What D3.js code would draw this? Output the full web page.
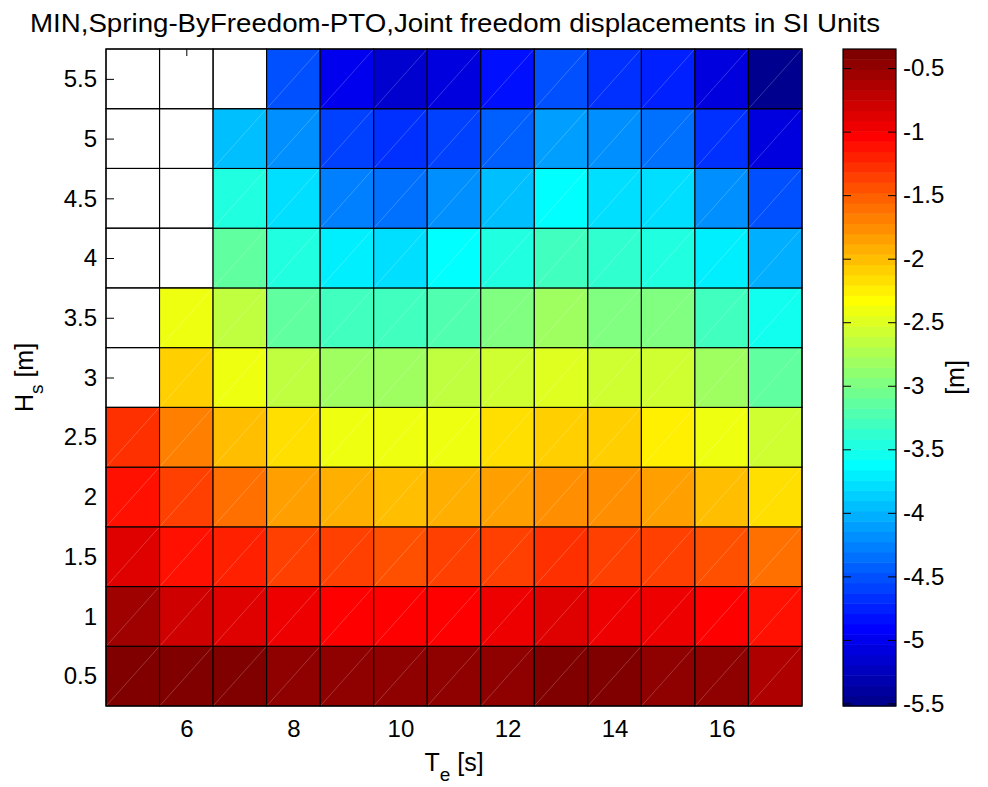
<!DOCTYPE html>
<html>
<head>
<meta charset="utf-8">
<script src="https://cdn.jsdelivr.net/npm/d3@7"></script>
<style>
  body { margin: 0; background: #fff; }
  text { font-family: "Liberation Sans", Arial, Helvetica, sans-serif; fill: #000; }
</style>
</head>
<body>
<svg id="chart" width="988" height="787"></svg>
<script>
// Energy period Te [s] (columns) and significant wave height Hs [m] (rows)
const periods = [5, 6, 7, 8, 9, 10, 11, 12, 13, 14, 15, 16, 17];
const heights = [0.5, 1.0, 1.5, 2.0, 2.5, 3.0, 3.5, 4.0, 4.5, 5.0, 5.5];

// Minimum joint displacement [m] per sea state, one array per Hs row (NaN = not computed)
const hs05 = [-0.35, -0.41, -0.41, -0.49, -0.49, -0.51, -0.51, -0.51, -0.41, -0.41, -0.51, -0.49, -0.60];
const hs10 = [-0.57, -0.76, -0.84, -0.92, -1.00, -1.00, -1.00, -0.92, -0.84, -0.92, -0.92, -1.00, -1.08];
const hs15 = [-0.84, -1.08, -1.16, -1.32, -1.40, -1.48, -1.40, -1.32, -1.24, -1.32, -1.32, -1.48, -1.57];
const hs20 = [-1.08, -1.40, -1.57, -1.81, -1.89, -1.97, -1.89, -1.81, -1.73, -1.73, -1.81, -1.97, -2.13];
const hs25 = [-1.24, -1.71, -1.97, -2.19, -2.37, -2.37, -2.37, -2.19, -2.11, -2.11, -2.21, -2.37, -2.61];
const hs30 = [NaN, -2.05, -2.37, -2.69, -2.78, -2.85, -2.69, -2.61, -2.53, -2.61, -2.61, -2.85, -3.10];
const hs35 = [NaN, -2.37, -2.69, -3.10, -3.26, -3.26, -3.18, -2.94, -2.83, -2.94, -3.01, -3.26, -3.58];
const hs40 = [NaN, NaN, -3.10, -3.50, -3.74, -3.82, -3.66, -3.42, -3.26, -3.34, -3.42, -3.74, -4.06];
const hs45 = [NaN, NaN, -3.50, -3.82, -4.26, -4.31, -4.17, -3.97, -3.66, -3.76, -3.82, -4.15, -4.54];
const hs50 = [NaN, NaN, -3.94, -4.17, -4.63, -4.71, -4.63, -4.39, -4.11, -4.17, -4.32, -4.67, -5.05];
const hs55 = [NaN, NaN, NaN, -4.54, -5.00, -5.16, -5.11, -4.80, -4.51, -4.67, -4.72, -5.11, -5.52];

const rows = [hs05, hs10, hs15, hs20, hs25, hs30, hs35, hs40, hs45, hs50, hs55];

// Tick values
const xTicks = [6, 8, 10, 12, 14, 16];
const yTicks = [0.5, 1, 1.5, 2, 2.5, 3, 3.5, 4, 4.5, 5, 5.5];
const cTicks = [-0.5, -1, -1.5, -2, -2.5, -3, -3.5, -4, -4.5, -5, -5.5];

const titleText = "MIN,Spring-ByFreedom-PTO,Joint freedom displacements in SI Units";

// ---- jet(64) colormap, same construction as the classic 64-entry jet ----
function jet(m) {
  const n = Math.ceil(m / 4);
  const u = [];
  for (let i = 1; i <= n; i++) u.push(i / n);
  for (let i = 1; i < n; i++) u.push(1);
  for (let i = n; i >= 1; i--) u.push(i / n);
  const g0 = Math.ceil(n / 2) - (m % 4 === 1 ? 1 : 0);
  const J = Array.from({length: m}, () => [0, 0, 0]);
  u.forEach((val, k) => {
    const g = g0 + k + 1, r = g + n, b = g - n;
    if (r >= 1 && r <= m) J[r - 1][0] = val;
    if (g >= 1 && g <= m) J[g - 1][1] = val;
    if (b >= 1 && b <= m) J[b - 1][2] = val;
  });
  return J.map(c => d3.rgb(c[0] * 255, c[1] * 255, c[2] * 255).formatHex());
}
const palette = jet(64);

// ---- cells ----
const cells = [];
rows.forEach((vals, i) => vals.forEach((v, j) => cells.push({te: periods[j], hs: heights[i], v})));
const finite = cells.filter(d => Number.isFinite(d.v)).map(d => d.v);
const [cmin, cmax] = d3.extent(finite);

const color = d3.scaleQuantize().domain([cmin, cmax]).range(palette);

// ---- layout ----
const plot = {left: 106, right: 802, top: 49, bottom: 706};
const cbar = {left: 843, right: 896};

const svg = d3.select("#chart");

const x = d3.scaleLinear().domain([4.5, 17.5]).range([plot.left, plot.right]);
const y = d3.scaleLinear().domain([0.25, 5.75]).range([plot.bottom, plot.top]);
const step = 1, hstep = 0.5;

const tickFont = 24;

function styleAxis(g) {
  g.select(".domain").remove();
  g.selectAll("line").attr("stroke", "#000");
  g.selectAll("text").attr("font-size", tickFont).attr("fill", "#000").attr("font-family", null);
}

// Axis ticks drawn first so the filled cells cover them (visible only through empty cells)
const axisLayer = svg.append("g");
axisLayer.append("g").attr("transform", `translate(0,${plot.bottom})`)
  .call(d3.axisBottom(x).tickValues(xTicks).tickSize(-7).tickPadding(14).tickFormat(d3.format("d")))
  .call(styleAxis);
axisLayer.append("g").attr("transform", `translate(0,${plot.top})`)
  .call(d3.axisTop(x).tickValues(xTicks).tickSize(-7).tickFormat(""))
  .call(styleAxis);
axisLayer.append("g").attr("transform", `translate(${plot.left},0)`)
  .call(d3.axisLeft(y).tickValues(yTicks).tickSize(-8).tickPadding(9).tickFormat(d => String(d)))
  .call(styleAxis);
axisLayer.append("g").attr("transform", `translate(${plot.right},0)`)
  .call(d3.axisRight(y).tickValues(yTicks).tickSize(-8).tickFormat(""))
  .call(styleAxis);

// Filled cells
const cellG = svg.append("g");
const cellSel = cellG.selectAll("g.cell").data(cells).join("g").attr("class", "cell");
cellSel.append("rect")
  .attr("x", d => x(d.te - step / 2))
  .attr("y", d => y(d.hs + hstep / 2))
  .attr("width", d => x(d.te + step / 2) - x(d.te - step / 2))
  .attr("height", d => y(d.hs - hstep / 2) - y(d.hs + hstep / 2))
  .attr("fill", d => Number.isFinite(d.v) ? color(d.v) : "none")
  .attr("stroke", "#000")
  .attr("stroke-width", 1.1);
// faint diagonal seam across each filled face
cellSel.filter(d => Number.isFinite(d.v)).append("line")
  .attr("x1", d => x(d.te - step / 2) + 1)
  .attr("y1", d => y(d.hs - hstep / 2) - 1)
  .attr("x2", d => x(d.te + step / 2) - 1)
  .attr("y2", d => y(d.hs + hstep / 2) + 1)
  .attr("stroke", "#fff")
  .attr("stroke-opacity", 0.3)
  .attr("stroke-width", 0.7);

// Axes box
svg.append("rect")
  .attr("x", plot.left).attr("y", plot.top)
  .attr("width", plot.right - plot.left).attr("height", plot.bottom - plot.top)
  .attr("fill", "none").attr("stroke", "#000").attr("stroke-width", 1.2);

// Title
svg.append("text")
  .attr("x", 455).attr("y", 32)
  .attr("text-anchor", "middle").attr("font-size", 26)
  .attr("textLength", 850).attr("lengthAdjust", "spacingAndGlyphs")
  .text(titleText);

// X label: T_e [s]
const xl = svg.append("text")
  .attr("x", (plot.left + plot.right) / 2).attr("y", 771)
  .attr("text-anchor", "middle").attr("font-size", 25);
xl.append("tspan").text("T");
xl.append("tspan").attr("dy", 10).attr("font-size", 19).text("e");
xl.append("tspan").attr("dy", -10).text(" [s]");

// Y label: H_s [m]
const yl = svg.append("text")
  .attr("transform", `translate(33,${(plot.top + plot.bottom) / 2}) rotate(-90)`)
  .attr("text-anchor", "middle").attr("font-size", 25);
yl.append("tspan").text("H");
yl.append("tspan").attr("dy", 10).attr("font-size", 19).text("s");
yl.append("tspan").attr("dy", -10).text(" [m]");

// ---- colorbar ----
const cy = d3.scaleLinear().domain([cmin, cmax]).range([plot.bottom, plot.top]);
const cb = svg.append("g");
cb.selectAll("rect.band").data(color.range()).join("rect").attr("class", "band")
  .attr("x", cbar.left)
  .attr("width", cbar.right - cbar.left)
  .attr("y", c => cy(color.invertExtent(c)[1]))
  .attr("height", c => cy(color.invertExtent(c)[0]) - cy(color.invertExtent(c)[1]) + 0.5)
  .attr("fill", c => c);

cb.append("g").attr("transform", `translate(${cbar.right},0)`)
  .call(d3.axisRight(cy).tickValues(cTicks).tickSize(-8).tickPadding(7).tickFormat(d => String(d)))
  .call(styleAxis);
cb.append("g").attr("transform", `translate(${cbar.left},0)`)
  .call(d3.axisLeft(cy).tickValues(cTicks).tickSize(-8).tickFormat(""))
  .call(styleAxis);
cb.append("rect")
  .attr("x", cbar.left).attr("y", plot.top)
  .attr("width", cbar.right - cbar.left).attr("height", plot.bottom - plot.top)
  .attr("fill", "none").attr("stroke", "#000").attr("stroke-width", 1.2);

svg.append("text")
  .attr("transform", `translate(964,${(plot.top + plot.bottom) / 2}) rotate(-90)`)
  .attr("text-anchor", "middle").attr("font-size", 25)
  .text("[m]");
</script>
</body>
</html>
